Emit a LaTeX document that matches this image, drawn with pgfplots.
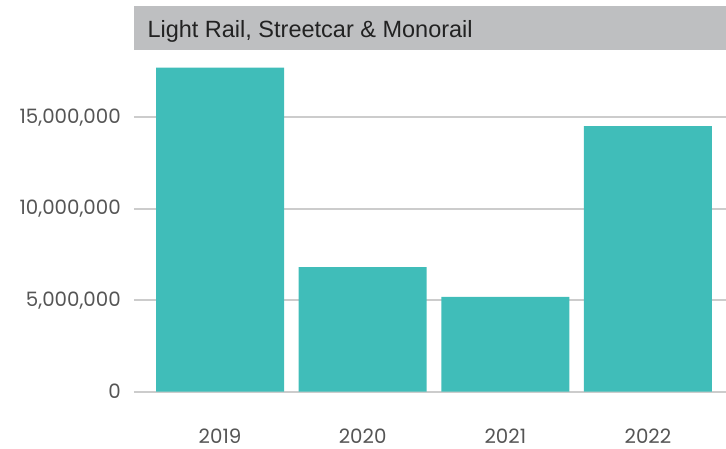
\documentclass[border=0pt]{standalone}
\usepackage{pgfplots}
\pgfplotsset{compat=1.18}
\usepackage{fontspec}
\setmainfont{Liberation Sans}
\newfontfamily\poppins{Poppins}
\definecolor{barc}{RGB}{64,189,185}
\definecolor{titlebg}{RGB}{190,191,193}
\definecolor{gridc}{RGB}{204,204,204}
\definecolor{tickc}{RGB}{85,85,85}
\definecolor{titlec}{RGB}{34,34,34}
\begin{document}
\begin{tikzpicture}[x=1pt,y=1pt]
\useasboundingbox (0,0) rectangle (726,449);
\fill[titlebg] (134,399) rectangle (726,443);
\node[anchor=base west, inner sep=0pt, text=titlec, font=\fontsize{23.5}{23.5}\selectfont] at (147.3,411.7) {Light Rail, Streetcar \& Monorail};
\begin{axis}[
  at={(134pt,57.3pt)}, anchor=south west,
  scale only axis, width=592pt, height=341.7pt,
  xmin=-0.603, xmax=3.547,
  ymin=0, ymax=18690000,
  axis line style={draw=none},
  ybar, bar width=128pt,
  xtick={0,1,2,3}, xticklabels={2019,2020,2021,2022},
  ytick={0,5000000,10000000,15000000},
  scaled y ticks=false,
  yticklabel={\pgfmathprintnumber[fixed,precision=0,1000 sep={,}]{\tick}},
  /pgf/number format/assume math mode=true,
  major tick length=0pt,
  tick style={draw=none},
  ymajorgrids, major grid style={gridc, line width=2pt},
  ticklabel style={font=\poppins\fontsize{19.8}{19.8}\selectfont, text=tickc, inner sep=0pt},
  yticklabel style={anchor=east, xshift=-13pt},
  xticklabel style={anchor=north, yshift=-36.6pt},
]
\addplot[fill=barc, draw=none] coordinates {(0,17720000) (1,6810000) (2,5180000) (3,14530000)};
\end{axis}
\end{tikzpicture}
\end{document}
